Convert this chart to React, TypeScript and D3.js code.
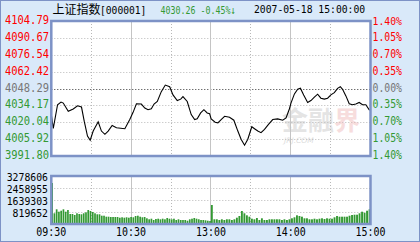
import React from "react";
import * as d3 from "d3";

const TITLE = "上证指数";
const CODE = "[000001]";
const QUOTE = "4030.26 -0.45%↓";
const STAMP = "2007-05-18 15:00:00";

const PRICE_TICKS = [4104.79, 4090.67, 4076.54, 4062.42, 4048.29, 4034.17, 4020.04, 4005.92, 3991.8];
const PCT_LABELS = ["1.40%", "1.05%", "0.70%", "0.35%", "0.00%", "0.35%", "0.70%", "1.05%", "1.40%"];
const PREV_CLOSE = 4048.29;

const VOL_TICKS = [3278606, 2458955, 1639303, 819652];
const TIME_LABELS = ["09:30", "10:30", "13:00", "14:00", "15:00"];
const TIME_MINUTES = [0, 60, 120, 180, 240];
const GRID_MINUTES = [30, 60, 90, 120, 150, 180, 210];
const SOLID_MINUTES = [60, 120, 180];

// trading minute from open, index price
const MINUTES = [
  0, 1.5, 4.7, 7.3, 9, 12.75, 16.5, 19.7, 22.7, 24.75, 27.2, 29.25, 31.5, 35.25, 37.7, 40.3, 42.75, 45.75, 49, 55.3,
  59, 61.5, 64, 67.7, 70.3, 72.75, 75.2, 77.25, 79.7, 82.7, 85.7, 89, 91.5, 94.7, 97.3, 99, 102.2, 105.2, 107.8, 109.7,
  112.3, 114.75, 117.2, 119, 120.2, 123.2, 125.25, 127.7, 130.3, 134, 137.25, 140.25, 142.7, 145.3, 147.75, 150.75,
  152.8, 155.25, 157.7, 160.3, 163.3, 166.5, 170.25, 174, 176.5, 179, 180.2, 182.8, 185.25, 187.3, 189.75, 192.75,
  195.2, 197.8, 200.25, 202.7, 205.3, 207.75, 210.2, 212.8, 215.25, 217.3, 219, 221.5, 224, 226.5, 229, 231.5, 234,
  236.5, 239, 240,
];
const PRICES = [
  4026.44, 4014.89, 4034.69, 4036.91, 4036.09, 4029.16, 4031.14, 4033.86, 4032.79, 4020.91, 4008.54, 4005.0, 4012.67,
  4020.42, 4012.67, 4009.94, 4012.67, 4017.37, 4015.47, 4014.65, 4022.32, 4028.34, 4035.51, 4035.26, 4031.96, 4030.56,
  4031.39, 4035.26, 4037.41, 4045.66, 4051.18, 4049.78, 4042.93, 4038.23, 4039.39, 4041.53, 4037.41, 4026.44, 4022.32,
  4022.89, 4027.84, 4030.56, 4027.84, 4027.26, 4022.89, 4020.09, 4019.59, 4022.32, 4025.04, 4024.21, 4021.74, 4012.67,
  4005.82, 4000.87, 4005.82, 4016.3, 4014.65, 4012.67, 4011.34, 4014.07, 4018.19, 4022.32, 4022.89, 4021.74, 4023.72,
  4031.14, 4036.09, 4043.76, 4047.64, 4048.46, 4042.93, 4036.58, 4038.23, 4041.04, 4043.51, 4040.21, 4039.39, 4040.21,
  4042.93, 4044.83, 4048.46, 4049.78, 4047.64, 4042.11, 4035.51, 4034.69, 4035.26, 4036.58, 4034.69, 4034.69, 4030.56,
  4030.26,
];

// volumes (thousand shares), morning and afternoon sessions
const VOL_AM = [
  2800, 731, 1004, 840, 908, 1004, 840, 956, 683, 683, 615, 731, 683, 663, 731, 799, 956, 888, 820, 731, 663, 663, 567,
  567, 499, 499, 478, 478, 478, 478, 430, 458, 430, 458, 430, 478, 458, 546, 567, 499, 458, 478, 389, 321, 362, 273, 342,
  362, 321, 362, 321, 410, 362, 321, 362, 273, 321, 273, 273, 273, 225, 321, 362, 410, 362, 321, 273, 273, 253, 225, 205,
];
const VOL_PM = [
  1298, 321, 321, 273, 321, 273, 321, 321, 273, 321, 430, 546, 888, 731, 594, 499, 362, 321, 410, 273, 389, 273, 273, 321,
  321, 321, 321, 321, 273, 321, 273, 321, 389, 458, 594, 546, 499, 389, 389, 321, 321, 362, 321, 362, 389, 342, 389, 362,
  362, 458, 546, 499, 499, 499, 499, 567, 615, 635, 635, 731, 840, 772, 908, 1004,
];

const W = 420;
const H = 242;
const BG = "#d9e9f9";
const BORDER = "#7d92c6";
const GREEN = "#339933";
const RED = "#ff0000";
const GRAY = "#777777";
const MONO = "'DejaVu Sans Mono', monospace";

const left = 51.3;
const right = 370.5;
const mainTop = 21;
const mainBottom = 156;
const volTop = 176;
const volBottom = 224;

function Label(props: { x: number; y: number; text: string; anchor?: string; fill: string; cw?: number; size?: number }) {
  const cw = props.cw ?? 6.2;
  return (
    <text
      x={props.x}
      y={props.y}
      textAnchor={props.anchor ?? "start"}
      dominantBaseline="central"
      fill={props.fill}
      fontFamily={MONO}
      fontSize={props.size ?? 12}
      textLength={props.text.length * cw}
      lengthAdjust="spacingAndGlyphs"
    >
      {props.text}
    </text>
  );
}

export default function App() {
  const x = d3.scaleLinear().domain([0, 240]).range([left, right]);
  const y = d3.scaleLinear().domain([PRICE_TICKS[8], PRICE_TICKS[0]]).range([mainBottom, mainTop]);
  const yv = d3.scaleLinear().domain([0, VOL_TICKS[0]]).range([volBottom, volTop]);
  const line = d3
    .line<number>()
    .x((_, i) => x(MINUTES[i]))
    .y((d) => y(d))
    .curve(d3.curveLinear);

  const bandAM = d3.scaleBand<number>().domain(d3.range(VOL_AM.length)).range([x(0), x(120)]).paddingInner(0.25);
  const bandPM = d3.scaleBand<number>().domain(d3.range(VOL_PM.length)).range([x(120), x(240)]).paddingInner(0.25);

  const colorFor = (v: number) => (v > PREV_CLOSE + 0.01 ? RED : v < PREV_CLOSE - 0.01 ? GREEN : GRAY);

  const vGrid = (top: number, bottom: number) =>
    GRID_MINUTES.map((m) => (
      <line
        key={"vg" + m + top}
        x1={x(m)}
        x2={x(m)}
        y1={top}
        y2={bottom}
        stroke={SOLID_MINUTES.includes(m) ? "#c4c4c4" : "#b8b8b8"}
        strokeDasharray={SOLID_MINUTES.includes(m) ? undefined : "1,2"}
        shapeRendering="crispEdges"
      />
    ));

  return (
    <svg width={W} height={H} style={{ position: "absolute", left: 0, top: 0 }}>
      <rect x={0.5} y={0.5} width={W - 1} height={H - 1} fill={BG} stroke={BORDER} />
      {/* main plot */}
      <rect x={left} y={mainTop} width={right - left} height={mainBottom - mainTop} fill="#ffffff" />
      {PRICE_TICKS.slice(1, 8).map((p) => (
        <line
          key={"hg" + p}
          x1={left}
          x2={right}
          y1={Math.round(y(p)) + 0.5}
          y2={Math.round(y(p)) + 0.5}
          stroke={p === PREV_CLOSE ? "#333333" : "#b8b8b8"}
          strokeDasharray="1,2"
        />
      ))}
      {vGrid(mainTop, mainBottom)}
      {/* watermark */}
      <g opacity={0.45}>
        <text x={282} y={130} fontFamily="'Noto Sans CJK SC'" fontWeight="bold" fontSize={26} fill="#c4c4c4">
          金融
        </text>
        <text x={334} y={130} fontFamily="'Noto Sans CJK SC'" fontWeight="bold" fontSize={26} fill="#eeb4b4">
          界
        </text>
        <text x={284} y={143} fontFamily="'DejaVu Sans'" fontStyle="italic" fontSize={7.5} fill="#b4b4b4">
          JRJ.COM
        </text>
      </g>
      <path d={line(PRICES) ?? ""} fill="none" stroke="#000000" strokeWidth={1.1} />
      <rect x={left} y={mainTop} width={right - left} height={mainBottom - mainTop} fill="none" stroke={BORDER} strokeWidth={2.5} />

      {/* volume plot */}
      <rect x={left} y={volTop} width={right - left} height={volBottom - volTop} fill="#ffffff" />
      {VOL_TICKS.slice(1).map((v) => (
        <line
          key={"vh" + v}
          x1={left}
          x2={right}
          y1={Math.round(yv(v)) + 0.5}
          y2={Math.round(yv(v)) + 0.5}
          stroke="#b8b8b8"
          strokeDasharray="1,2"
        />
      ))}
      {vGrid(volTop, volBottom)}
      {VOL_AM.map((v, i) => (
        <rect
          key={"va" + i}
          x={bandAM(i)}
          y={yv(v * 1000)}
          width={bandAM.bandwidth()}
          height={volBottom - yv(v * 1000)}
          fill={GREEN}
        />
      ))}
      {VOL_PM.map((v, i) => (
        <rect
          key={"vp" + i}
          x={bandPM(i)}
          y={yv(v * 1000)}
          width={bandPM.bandwidth()}
          height={volBottom - yv(v * 1000)}
          fill={GREEN}
        />
      ))}
      <rect x={left} y={volTop} width={right - left} height={volBottom - volTop} fill="none" stroke={BORDER} strokeWidth={2.5} />

      {/* left price labels */}
      {PRICE_TICKS.map((p) => (
        <Label key={"pl" + p} x={49} y={y(p) - 1} text={p.toFixed(2)} anchor="end" fill={colorFor(p)} cw={6.3} />
      ))}
      {/* right pct labels */}
      {PCT_LABELS.map((t, i) => (
        <Label
          key={"pr" + i}
          x={372.5}
          y={y(PRICE_TICKS[i]) - (i === 0 ? 0 : 1)}
          text={t}
          fill={colorFor(PRICE_TICKS[i])}
          cw={5.9}
          size={i === 0 ? 11 : 12}
        />
      ))}
      {/* volume labels */}
      {VOL_TICKS.map((v) => (
        <Label key={"vl" + v} x={48} y={yv(v) + 0.5} text={String(v)} anchor="end" fill="#000000" cw={5.9} size={10.5} />
      ))}
      {/* time labels */}
      {TIME_LABELS.map((t, i) => (
        <Label key={"tl" + t} x={x(TIME_MINUTES[i])} y={232} text={t} anchor="middle" fill="#000000" cw={6} />
      ))}

      {/* header */}
      <text x={52.5} y={14} fontFamily="'Noto Sans CJK SC'" fontSize={12} fill="#000000">
        {TITLE}
      </text>
      <Label x={100} y={10} text={CODE} fill="#000000" cw={5.8} size={11} />
      <Label x={160.5} y={10} text={QUOTE} fill={GREEN} cw={5.0} size={11} />
      <Label x={254} y={9.5} text={STAMP} fill="#000000" cw={5.85} size={11} />
    </svg>
  );
}
